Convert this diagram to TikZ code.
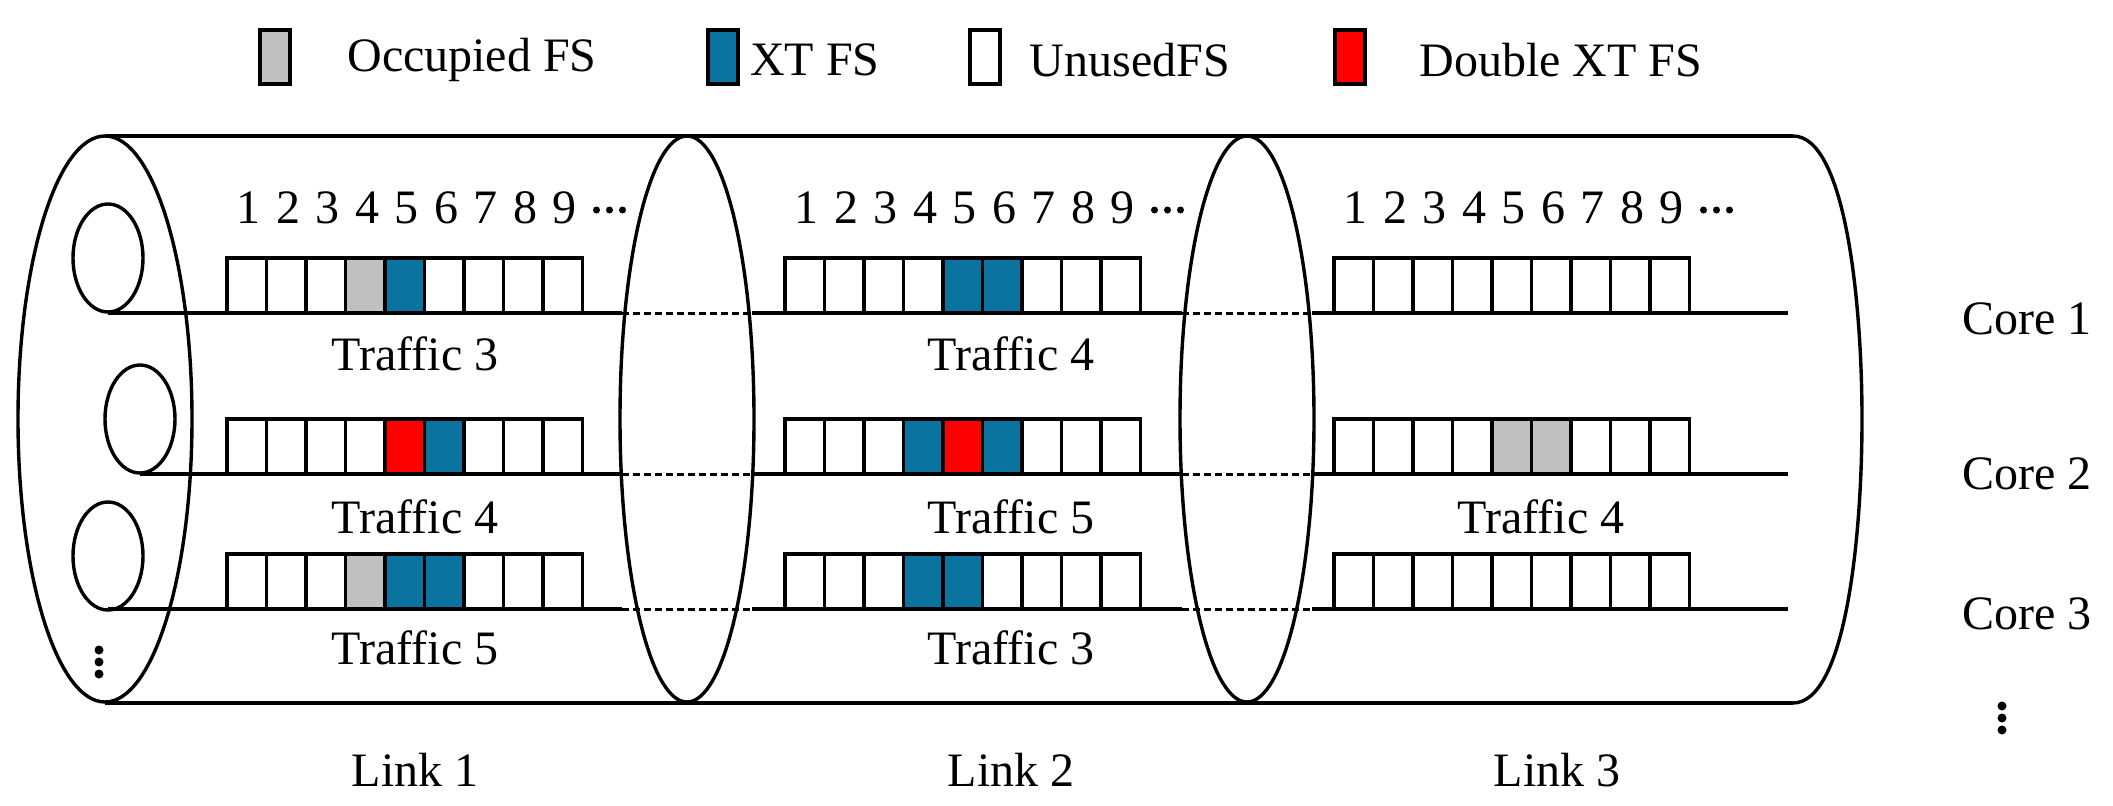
\documentclass[tikz,border=0pt]{standalone}
\usepackage{fontspec}
\setmainfont{Liberation Serif}
\definecolor{xtblue}{HTML}{0B73A0}
\definecolor{occgray}{HTML}{C0C0C0}
\begin{document}
\begin{tikzpicture}[x=1pt,y=-1pt,line width=3.4pt,
  txt/.style={font=\fontsize{48}{54}\selectfont,inner sep=0pt},
  cell/.style={draw=black,line width=3.4pt},
  dashln/.style={dash pattern=on 7pt off 4pt,line width=3pt}]
\useasboundingbox (0,0) rectangle (2113,806);
% legend
\filldraw[fill=occgray] (260,30) rectangle (290,84);
\node[txt] (l1) at (472,60) {Occupied FS};
\filldraw[fill=xtblue] (708,30) rectangle (738,84);
\node[txt] (l2) at (815,60) {XT FS};
\draw (970,30) rectangle (1000,84);
\node[txt] (l3) at (1130,60) {UnusedFS};
\filldraw[fill=red] (1335,30) rectangle (1365,84);
\node[txt] (l4) at (1561,60) {Double XT FS};
% cylinder
\draw (105,136) -- (1793,136);
\draw (105,703) -- (1793,703);
\draw (1793,136) .. controls (1845,136) and (1862,300) .. (1862,419) .. controls (1862,540) and (1845,703) .. (1793,703);
\draw (105,419) ellipse (87 and 283);
\draw (687,419) ellipse (67 and 283);
\draw (1247,419) ellipse (67 and 283);
% small cores
\draw (108,258) ellipse (35 and 54);
\draw (140,419) ellipse (35 and 54);
\draw (108,556) ellipse (35 and 54);
\foreach \y in {650,662,674} \fill (99,\y) circle (4.5);
% core lines
\foreach \y/\xs in {313/108,474/140,609/108}{
  \draw (\xs,\y) -- (622,\y);
  \draw[dashln] (622,\y) -- (752,\y);
  \draw (752,\y) -- (1182,\y);
  \draw[dashln] (1182,\y) -- (1312,\y);
  \draw (1312,\y) -- (1788,\y);
}
\newcommand{\cellrow}[3]{%
  \foreach \i in {0,...,8} \draw[cell,fill=white] ({#1+\i*39.5},#2) rectangle ({#1+(\i+1)*39.5},#2+55);
  \foreach \i/\c in {#3} \draw[cell,fill=\c] ({#1+(\i-1)*39.5},#2) rectangle ({#1+\i*39.5},#2+55);
}
\newcommand{\plainrow}[2]{%
  \foreach \i in {0,...,8} \draw[cell,fill=white] ({#1+\i*39.5},#2) rectangle ({#1+(\i+1)*39.5},#2+55);
}
\cellrow{227}{258}{4/occgray,5/xtblue}
\cellrow{227}{419}{5/red,6/xtblue}
\cellrow{227}{554}{4/occgray,5/xtblue,6/xtblue}
\cellrow{785}{258}{5/xtblue,6/xtblue}
\cellrow{785}{419}{4/xtblue,5/red,6/xtblue}
\cellrow{785}{554}{4/xtblue,5/xtblue}
\plainrow{1334}{258}
\cellrow{1334}{419}{5/occgray,6/occgray}
\plainrow{1334}{554}
% numbers
\foreach \x [count=\k] in {227,785,1334}{
  \foreach \i in {1,...,9} \node[txt] (n\k\i) at ({\x+(\i-0.5)*39.5+2},208) {\i};
  \foreach \d in {0,1,2} \fill ({\x+9*39.5+14+\d*13},210) circle (3.5);
}
% traffic labels
\node[txt] (t11) at (415,354) {Traffic 3};
\node[txt] (t12) at (415,517) {Traffic 4};
\node[txt] (t13) at (415,648) {Traffic 5};
\node[txt] (t21) at (1011,354) {Traffic 4};
\node[txt] (t22) at (1011,517) {Traffic 5};
\node[txt] (t23) at (1011,648) {Traffic 3};
\node[txt] (t32) at (1541,517) {Traffic 4};
% core labels
\node[txt] (c1) at (2027,319) {Core 1};
\node[txt] (c2) at (2027,474) {Core 2};
\node[txt] (c3) at (2027,614) {Core 3};
\foreach \y in {706,718,730} \fill (2002,\y) circle (4.5);
% link labels
\node[txt] (k1) at (415,770) {Link 1};
\node[txt] (k2) at (1011,770) {Link 2};
\node[txt] (k3) at (1557,770) {Link 3};
\end{tikzpicture}
\end{document}
